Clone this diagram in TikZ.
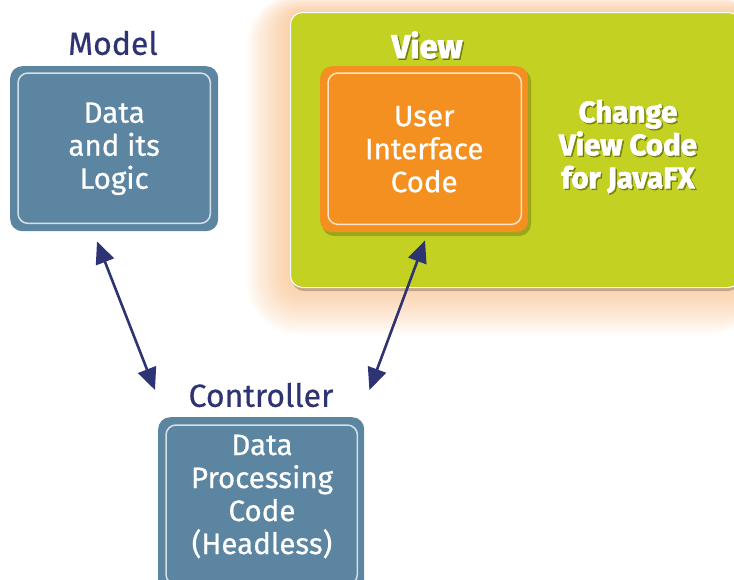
\documentclass[tikz,border=0pt]{standalone}
\usepackage{fontspec}
\setmainfont{Fira Sans}[FakeBold=0.6, BoldFeatures={FakeBold=2.2}]
\usetikzlibrary{arrows.meta}
\definecolor{boxblue}{HTML}{5B85A1}
\definecolor{navy}{HTML}{2E3373}
\definecolor{viewgreen}{HTML}{C2D122}
\definecolor{uiorange}{HTML}{F39020}
\definecolor{glowc}{HTML}{F5A050}
\tikzset{
  basebox/.style={rounded corners=12pt, inner sep=0pt},
  bluebox/.style={basebox, fill=boxblue},
  innerframe/.style={draw=white!75!boxblue, line width=1.5pt, rounded corners=10pt},
  bodytext/.style={text=white, align=center, font=\fontsize{29.5}{33}\selectfont},
  headtext/.style={text=navy, font=\fontsize{32}{32}\selectfont},
  boldtext/.style={text=white, align=center, font=\bfseries\fontsize{29.5}{33}\selectfont},
  shadowtext/.style={text=black, opacity=0.3, align=center, font=\bfseries\fontsize{29.5}{33}\selectfont},
  link/.style={draw=navy, line width=2.6pt, {Triangle[length=22pt,width=19pt]}-{Triangle[length=22pt,width=19pt]}},
}
\begin{document}
\begin{tikzpicture}[x=1pt,y=-1pt]
\useasboundingbox (0,0) rectangle (734,579);

% soft orange halo around the View area
\foreach \i in {1,...,40}{
  \fill[glowc, opacity=0.014, rounded corners={12pt+\i pt}]
    (290-1.1*\i,12-0.45*\i) rectangle (760,287+1.2*\i);
}
% View area with drop shadow
\fill[black, opacity=0.22, rounded corners=12pt] (292,16) rectangle (740,291);
\node[basebox, fill=viewgreen, draw=white, line width=1pt, minimum width=450pt, minimum height=275pt, anchor=north west] (view) at (290,12) {};

% Model
\node[headtext] (modellabel) at (113,43) {Model};
\node[bluebox, minimum width=208pt, minimum height=165pt, anchor=north west] (model) at (10,66) {};
\draw[innerframe] ([shift={(8pt,-7pt)}]model.north west) rectangle ([shift={(-8pt,8pt)}]model.south east);
\node[bodytext] (modeltext) at (model.center) {Data\\and its\\Logic};

% User interface box inside the View area
\fill[black, opacity=0.2, rounded corners=12pt] (322,69) rectangle (531,236);
\node[basebox, fill=uiorange, minimum width=208pt, minimum height=166pt, anchor=north west] (ui) at (320,66) {};
\draw[innerframe, draw=white!75!uiorange] ([shift={(8pt,-7pt)}]ui.north west) rectangle ([shift={(-7pt,8pt)}]ui.south east);
\node[bodytext] (uitext) at (ui.center) {User\\Interface\\Code};

\node[shadowtext, font=\bfseries\fontsize{33}{33}\selectfont] at (428.5,46.5) {View};
\node[boldtext, font=\bfseries\fontsize{33}{33}\selectfont] (viewlabel) at (427,45) {View};
\node[shadowtext] at (629.5,148) {Change\\View Code\\for JavaFX};
\node[boldtext] (change) at (628,146.5) {Change\\View Code\\for JavaFX};

% Controller
\node[headtext] (ctrllabel) at (261,395) {Controller};
\node[bluebox, minimum width=206pt, minimum height=175pt, anchor=north west] (ctrl) at (158,417) {};
\draw[innerframe] ([shift={(8pt,-8pt)}]ctrl.north west) rectangle ([shift={(-7pt,8pt)}]ctrl.south east);
\node[bodytext] (ctrltext) at (262,496.5) {Data\\Processing\\Code\\(Headless)};

% connections
\draw[link] ([shift={(87pt,-10pt)}]model.south west) -- ([shift={(-3pt,27pt)}]ctrl.north west);
\draw[link] ([shift={(105pt,-8pt)}]ui.south west) -- ([shift={(5pt,27pt)}]ctrl.north east);
\end{tikzpicture}
\end{document}
